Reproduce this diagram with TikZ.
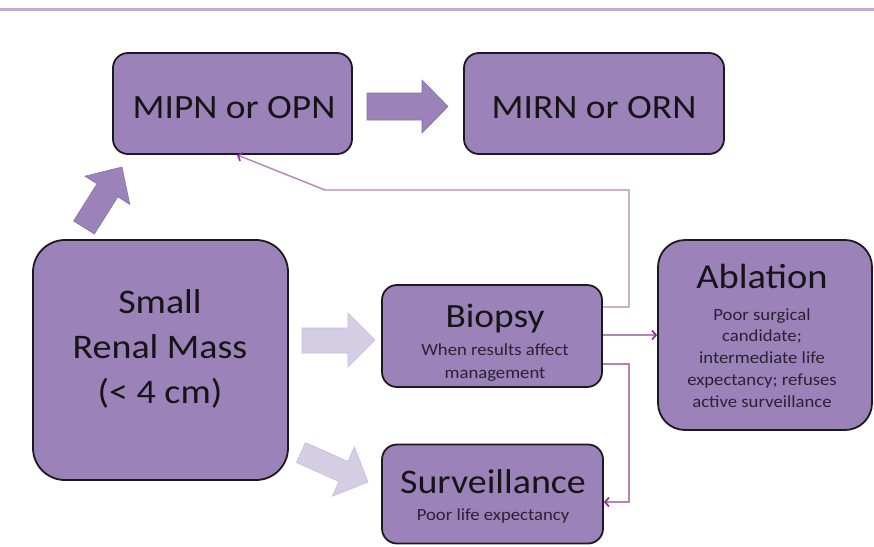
\documentclass[tikz,border=0pt]{standalone}
\usepackage{fontspec}
\setmainfont{Carlito}[FakeStretch=1.1]
\usetikzlibrary{arrows.meta}
\definecolor{boxfill}{HTML}{9B83BA}
\definecolor{boxline}{HTML}{1C1A20}
\definecolor{lightarrow}{HTML}{D5CDE4}
\definecolor{lightarrowline}{HTML}{C6BCD9}
\definecolor{darkarrowline}{HTML}{8770A8}
\definecolor{topline}{HTML}{C3ABCF}
\definecolor{connline}{HTML}{B385B5}
\definecolor{connhead}{HTML}{8C2A8E}
\definecolor{titletext}{HTML}{151515}
\definecolor{subtext}{HTML}{2A2232}
\tikzset{
  box/.style={draw=boxline, line width=1.8pt, fill=boxfill, inner sep=0pt},
  titlefont/.style={font=\fontsize{34}{40}\selectfont, text=titletext, inner sep=0pt, anchor=base, align=center},
  subfont/.style={font=\fontsize{17}{22}\selectfont, text=subtext, inner sep=0pt, anchor=base, align=center},
  conn/.style={draw=connline, line width=1.4pt, -{Straight Barb[length=4pt,width=9pt,line width=1.6pt,color=connhead]}},
  darkfat/.style={fill=boxfill, draw=darkarrowline, line width=0.6pt},
  lightfat/.style={fill=lightarrow, draw=lightarrowline, line width=0.6pt}
}
\begin{document}
\begin{tikzpicture}[x=1pt,y=-1pt]
\useasboundingbox (0,0) rectangle (874,546);
\fill[white] (0,0) rectangle (874,546);
\draw[topline, line width=3pt] (0,9) -- (874,9);

% boxes
\node[box, rounded corners=15pt, minimum width=239pt, minimum height=101pt] (mipn) at (232.5,103.5) {};
\node[box, rounded corners=15pt, minimum width=260pt, minimum height=101pt] (mirn) at (594,103.5) {};
\node[box, rounded corners=32pt, minimum width=255pt, minimum height=240pt] (srm) at (160.5,360) {};
\node[box, rounded corners=15pt, minimum width=220pt, minimum height=102pt] (biopsy) at (492,336) {};
\node[box, rounded corners=15pt, minimum width=221pt, minimum height=99pt] (surv) at (492.5,494) {};
\node[box, rounded corners=27pt, minimum width=214pt, minimum height=190pt] (ablation) at (765,335) {};

% texts (anchor base = baseline of last line)
\node[titlefont] (mipnT) at (234,118) {MIPN or OPN};
\node[titlefont] (mirnT) at (594,118) {MIRN or ORN};
\node[titlefont, font=\fontsize{34.5}{45}\selectfont] (srmT) at (160,403) {Small\\Renal Mass\\(< 4 cm)};
\node[titlefont] (biopsyT) at (495,327) {Biopsy};
\node[subfont, font=\fontsize{17}{23}\selectfont] (biopsyS) at (495,378) {When results affect\\management};
\node[titlefont, font=\fontsize{34.5}{40}\selectfont] (survT) at (493,493) {Surveillance};
\node[subfont] (survS) at (493,520) {Poor life expectancy};
\node[titlefont, font=\fontsize{35}{40}\selectfont] (ablT) at (762,288) {Ablation};
\node[subfont, font=\fontsize{17}{21.7}\selectfont] (ablS) at (762,407) {Poor surgical\\candidate;\\intermediate life\\expectancy; refuses\\active surveillance};

% fat arrows
\draw[darkfat] (73.6,221) -- (97.0,183.8) -- (85.0,176.2) -- (122,167) -- (129.8,204.4) -- (117.8,196.8) -- (94.4,234) -- cycle;
\draw[darkfat] (367,93) -- (422,93) -- (422,80) -- (448,106.5) -- (422,133) -- (422,120) -- (367,120) -- cycle;
\draw[lightfat] (302,328) -- (348,328) -- (348,313) -- (375,340) -- (348,367) -- (348,353) -- (302,353) -- cycle;
\draw[lightfat] (305.5,442.5) -- (347.9,461.5) -- (354.4,446.8) -- (368,482) -- (332.4,496.2) -- (338.9,481.5) -- (296.5,462.5) -- cycle;

% connectors
\coordinate (y307) at (0,307);
\coordinate (y335) at (0,335);
\coordinate (y364) at (0,364);
\coordinate (y502) at (0,502);
\coordinate (x237) at (237,0);
\draw[conn] (biopsy.east |- y307) -- (629,307) -- (629,190) -- (325,190) -- (mipn.south -| x237);
\draw[conn] (biopsy.east |- y335) -- (ablation.west |- y335);
\draw[conn] (biopsy.east |- y364) -- (629,364) -- (629,502) -- (surv.east |- y502);
\end{tikzpicture}
\end{document}
